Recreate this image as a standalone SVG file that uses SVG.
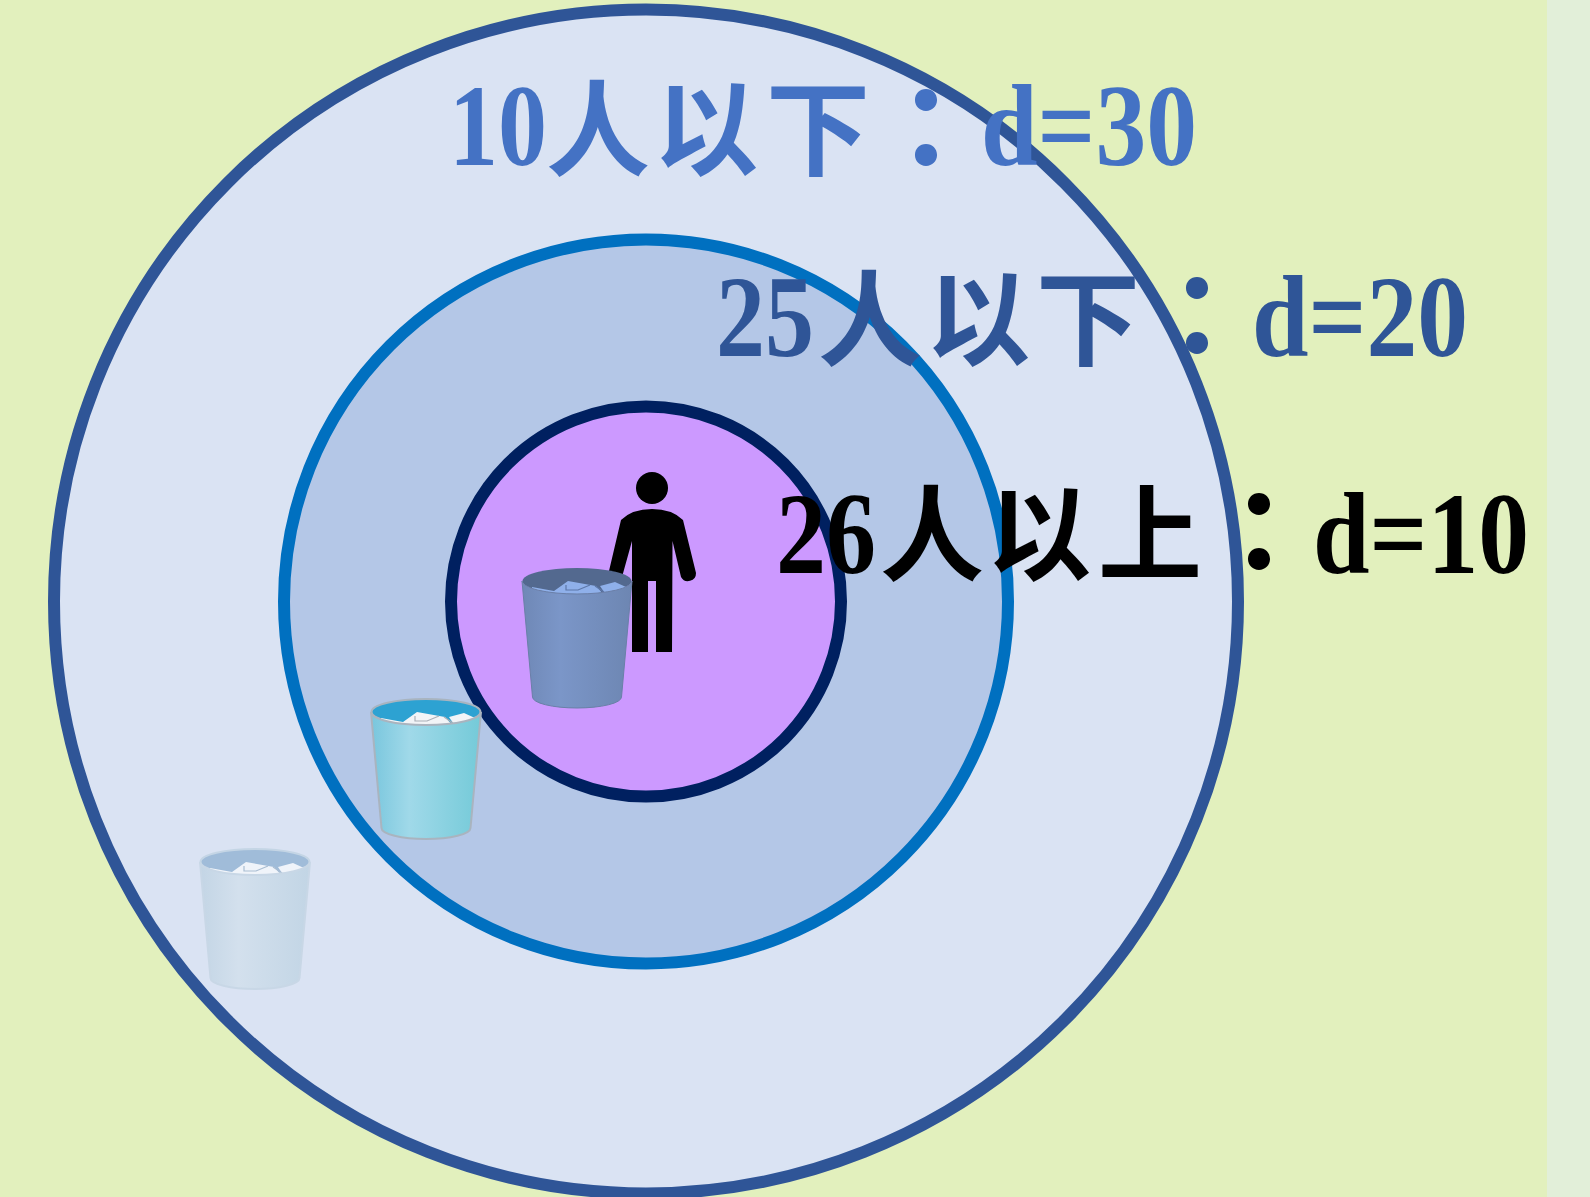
<svg xmlns="http://www.w3.org/2000/svg" width="1590" height="1197" viewBox="0 0 1590 1197">
<style>
.t{font-family:"Liberation Serif","Noto Sans CJK SC",serif;font-weight:700;font-size:116px}
.c{font-family:"Noto Sans CJK SC","Liberation Serif",serif;font-weight:700;font-size:104px}
.k{font-family:"Noto Sans CJK SC","Liberation Serif",serif;font-weight:700;font-size:116px}
.r{stroke-width:12}
</style>
<defs>
<linearGradient id="g1" x1="0" x2="1" y1="0" y2="0"><stop offset="0" stop-color="#6f88b6"/><stop offset=".35" stop-color="#7b96c8"/><stop offset="1" stop-color="#6d86b2"/></linearGradient>
<linearGradient id="g2" x1="0" x2="1" y1="0" y2="0"><stop offset="0" stop-color="#79c6dd"/><stop offset=".35" stop-color="#a0d9e9"/><stop offset="1" stop-color="#74cad8"/></linearGradient>
<linearGradient id="g3" x1="0" x2="1" y1="0" y2="0"><stop offset="0" stop-color="#c3d5e5"/><stop offset=".35" stop-color="#d3e0ed"/><stop offset="1" stop-color="#c2d5e5"/></linearGradient>
<clipPath id="rim"><ellipse cx="55" cy="1" rx="55" ry="13"/></clipPath>
<path id="body" d="M0,1 L10.5,117 A44.5,11 0 0 0 99.5,117 L110,1 A55,13 0 0 1 0,1Z"/>
<ellipse id="top" cx="55" cy="1" rx="54.5" ry="13"/>
<path id="pap1" d="M10,7 L32,11 L46,1 L74,6 L82,15 L10,15Z"/>
<path id="pap2" d="M78,6 L93,2 L104,7 L100,15 L84,15Z"/>
<path id="crease" d="M44,5 L44,10 L56,10 L68,5 M73,6 L82,12" fill="none" stroke-width="1.2"/>
</defs>
<rect width="1590" height="1197" fill="#e2f0bd"/>
<rect x="1547" width="43" height="1197" fill="#e2efd9"/>
<circle cx="646" cy="601.5" r="592" fill="#dae3f3" stroke="#2f5597" class="r"/>
<circle cx="646" cy="601.5" r="362" fill="#b4c7e7" stroke="#0070c0" class="r"/>
<circle cx="646" cy="601.5" r="195" fill="#cc99ff" stroke="#002060" class="r"/>
<g id="label-10" fill="#4472c4">
<text class="t" x="449" y="165" textLength="98" lengthAdjust="spacingAndGlyphs">10</text>
<text class="c" x="546" y="168">人</text>
<text class="c" x="654" y="168">以</text>
<text class="c" x="766" y="168">下</text>
<text class="k" x="897" y="165">：</text>
<text class="t" x="981" y="165" textLength="216" lengthAdjust="spacingAndGlyphs">d=30</text>
</g>
<g id="label-25" fill="#2f5597">
<text class="t" x="716" y="356" textLength="98" lengthAdjust="spacingAndGlyphs">25</text>
<text class="c" x="818" y="358">人</text>
<text class="c" x="926" y="358">以</text>
<text class="c" x="1036" y="358">下</text>
<text class="k" x="1168" y="353">：</text>
<text class="t" x="1252" y="356" textLength="216" lengthAdjust="spacingAndGlyphs">d=20</text>
</g>
<g id="person">
<circle cx="652" cy="488" r="16"/>
<path d="M621,520 Q632,509 652,509 Q672,509 683,520 L696,573 A8,8 0 0 1 681,577 L672.500,541 L672,652 L656,652 L656,581 L648,581 L648,652 L632,652 L632,541 L622,577 L609,571Z"/>
</g>
<g id="label-26" fill="#000">
<text class="t" x="776" y="573" textLength="100" lengthAdjust="spacingAndGlyphs">26</text>
<text class="c" x="880" y="573">人</text>
<text class="c" x="987" y="573">以</text>
<text class="c" x="1098" y="573">上</text>
<text class="k" x="1230" y="569">：</text>
<text class="t" x="1313" y="573" textLength="216" lengthAdjust="spacingAndGlyphs">d=10</text>
</g>
<g id="bin-1" transform="translate(522,580)">
<use href="#top" fill="#53698f"/>
<g clip-path="url(#rim)" fill="#8fb0ea"><use href="#pap1"/><use href="#pap2"/></g>
<use href="#crease" stroke="#5d77a8"/>
<use href="#body" fill="url(#g1)" stroke="#6a80a8" stroke-width="1"/>
</g>
<g id="bin-2" transform="translate(371,711)">
<use href="#top" fill="#2da2d2" stroke="#a8b4c0" stroke-width="2"/>
<g clip-path="url(#rim)" fill="#f2f4f7"><use href="#pap1"/><use href="#pap2"/></g>
<use href="#crease" stroke="#aab0b8"/>
<use href="#body" fill="url(#g2)" stroke="#a9b4bf" stroke-width="2"/>
</g>
<g id="bin-3" transform="translate(200,861)">
<use href="#top" fill="#a0bcd9" stroke="#c4d5e5" stroke-width="2"/>
<g clip-path="url(#rim)" fill="#f0f4fa"><use href="#pap1"/><use href="#pap2"/></g>
<use href="#crease" stroke="#a9bdd2"/>
<use href="#body" fill="url(#g3)" stroke="#c8d7e6" stroke-width="2"/>
</g>
</svg>
